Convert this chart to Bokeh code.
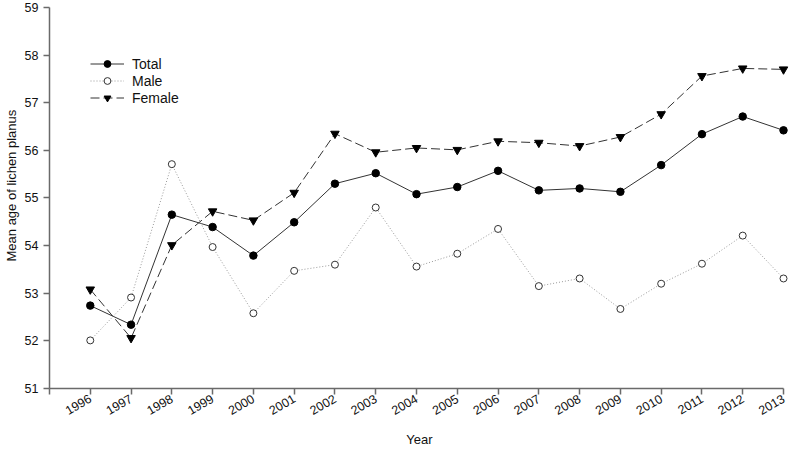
import math
from bokeh.plotting import figure
from bokeh.models import Range1d, FixedTicker, Legend, LegendItem, Title
from bokeh.embed import file_html
from bokeh.resources import INLINE

years = list(range(1996, 2014))
total = [52.74, 52.34, 54.65, 54.39, 53.79, 54.49, 55.30, 55.52, 55.08, 55.23,
         55.57, 55.16, 55.20, 55.13, 55.69, 56.34, 56.71, 56.42]
male = [52.01, 52.91, 55.71, 53.97, 52.58, 53.47, 53.60, 54.80, 53.56, 53.83,
        54.35, 53.15, 53.31, 52.67, 53.20, 53.62, 54.21, 53.31]
female = [53.08, 52.06, 54.01, 54.72, 54.53, 55.11, 56.35, 55.96, 56.05, 56.01,
          56.19, 56.16, 56.09, 56.28, 56.76, 57.56, 57.72, 57.70]
x_ticks = list(range(1995, 2014))
y_ticks = list(range(51, 60))

FONT = "Liberation Sans"

p = figure(width=789, height=450, output_backend="svg", toolbar_location=None,
           x_range=Range1d(1995, 2013.147), y_range=Range1d(51, 59.146),
           min_border_left=49, min_border_right=0, min_border_top=0, min_border_bottom=59)
p.styles = {"position": "absolute", "left": "0px", "top": "0px"}
p.outline_line_color = None
p.xgrid.visible = False
p.ygrid.visible = False

for ax in (p.xaxis[0], p.yaxis[0]):
    ax.axis_line_color = "#6a6a6a"
    ax.axis_line_width = 1.5
    ax.major_tick_line_color = "#6a6a6a"
    ax.major_tick_line_width = 1.5
    ax.major_tick_out = 6
    ax.major_tick_in = 0
    ax.minor_tick_out = 0
    ax.minor_tick_in = 0
    ax.major_label_text_font = FONT
    ax.major_label_text_font_size = "12.5px"
    ax.major_label_text_color = "#111111"
    ax.axis_label_text_font = FONT
    ax.axis_label_text_font_size = "13px"
    ax.axis_label_text_font_style = "normal"
    ax.axis_label_text_color = "#111111"

p.xaxis.ticker = FixedTicker(ticks=x_ticks)
p.xaxis.major_label_overrides = {1995: ""}
p.xaxis.major_label_orientation = math.pi / 6
p.xaxis.bounds = (1995, 2013)
p.xaxis.axis_label = "Year"
p.xaxis.major_label_standoff = 3
p.xaxis.axis_label_standoff = 10

p.yaxis.ticker = FixedTicker(ticks=y_ticks)
p.yaxis.bounds = (51, 59)
p.yaxis.major_label_standoff = 5

ytitle = Title(text="Mean age of lichen planus", align="left", offset=127,
               vertical_align="middle", standoff=4,
               text_font=FONT, text_font_size="13px", text_font_style="normal",
               text_color="#111111")
p.add_layout(ytitle, "left")

lt = p.line(years, total, line_color="#333333", line_width=1)
st = p.scatter(years, total, marker="circle", size=7.5, fill_color="black", line_color="black")
lm = p.line(years, male, line_color="#999999", line_width=1, line_dash="1 2")
sm = p.scatter(years, male, marker="circle", size=7, fill_color="white", line_color="#333333", line_width=1)
lf = p.line(years, female, line_color="#333333", line_width=1, line_dash="9 4")
sf = p.scatter(years, female, marker="inverted_triangle", size=8.5, fill_color="black", line_color="black")

legend = Legend(items=[LegendItem(label="Total", renderers=[lt, st]),
                       LegendItem(label="Male", renderers=[lm, sm]),
                       LegendItem(label="Female", renderers=[lf, sf])],
                location=(41, 282))
legend.border_line_color = None
legend.background_fill_alpha = 0
legend.padding = 0
legend.spacing = 0
legend.margin = 0
legend.glyph_width = 34
legend.glyph_height = 17
legend.label_height = 17
legend.label_standoff = 8
legend.label_text_font = FONT
legend.label_text_font_size = "14px"
legend.label_text_color = "#111111"
p.add_layout(legend)

open("out.html", "w").write(file_html(p, INLINE))
